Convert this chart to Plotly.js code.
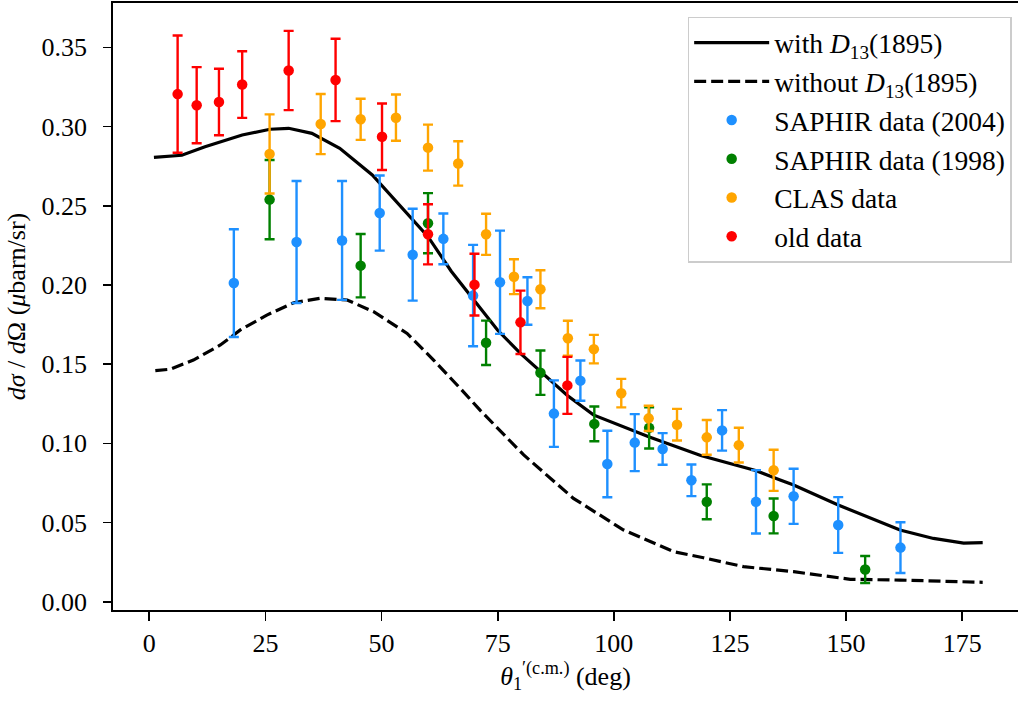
<!DOCTYPE html>
<html>
<head>
<meta charset="utf-8">
<script src="https://cdn.plot.ly/plotly-3.0.1.min.js"></script>
<style>html,body{margin:0;padding:0;background:#fff;overflow:hidden}#chart{width:1018px;height:702px}</style>
</head>
<body>
<div id="chart"></div>
<script>
// Model curves
const withTheta = [1, 7, 12, 20, 26, 30, 35, 41, 48, 55.5, 60, 65, 70, 75, 80, 84.2, 90, 95.6, 107.5, 118.7, 130.5, 135.8, 138.7, 148.3, 156, 161.6, 168.8, 175.3, 179.4];
const withVals = [0.2806, 0.2819, 0.2873, 0.2947, 0.2983, 0.2989, 0.2957, 0.2863, 0.2694, 0.2453, 0.2305, 0.2087, 0.1898, 0.1714, 0.1565, 0.1453, 0.1302, 0.118, 0.1042, 0.0924, 0.0829, 0.0769, 0.0737, 0.0611, 0.0517, 0.0453, 0.0400, 0.0370, 0.0373];
const withoutTheta = [1.3, 4.5, 9.5, 15.3, 19.6, 25.3, 31.1, 36.8, 42.6, 48.3, 55.5, 61.2, 66.6, 71.2, 80.6, 91.3, 102.1, 112.9, 119.3, 127.9, 138.7, 150.9, 161.6, 179.4];
const withoutVals = [0.1459, 0.1468, 0.1526, 0.1621, 0.1716, 0.181, 0.1888, 0.1916, 0.1905, 0.1831, 0.1694, 0.1526, 0.1358, 0.121, 0.0927, 0.0653, 0.0453, 0.0316, 0.0278, 0.0222, 0.0190, 0.0142, 0.0137, 0.0123];

// SAPHIR 2004
const saphir04Theta = [18.2, 31.7, 41.5, 49.6, 56.7, 63.3, 69.7, 75.5, 81.4, 87.1, 92.8, 98.6, 104.5, 110.5, 116.7, 123.3, 130.6, 138.7, 148.3, 161.7];
const saphir04Vals = [0.2012, 0.2271, 0.2281, 0.2454, 0.2191, 0.2291, 0.1933, 0.2017, 0.1899, 0.1188, 0.1396, 0.0870, 0.1005, 0.0965, 0.0767, 0.1082, 0.0631, 0.0666, 0.0485, 0.0342];
const saphir04Err = [0.034, 0.0385, 0.0375, 0.0237, 0.029, 0.016, 0.032, 0.0326, 0.015, 0.021, 0.0127, 0.021, 0.018, 0.010, 0.010, 0.0128, 0.020, 0.0174, 0.0176, 0.016];

// SAPHIR 1998
const saphir98Theta = [25.9, 45.5, 60.0, 72.5, 84.2, 95.8, 107.6, 120.0, 134.4, 154.1];
const saphir98Vals = [0.2539, 0.2122, 0.239, 0.1635, 0.1446, 0.1123, 0.1098, 0.0631, 0.0542, 0.0204];
const saphir98Err = [0.025, 0.020, 0.019, 0.014, 0.014, 0.011, 0.013, 0.011, 0.011, 0.0085];

// CLAS
const clasTheta = [25.9, 36.9, 45.5, 53.1, 60.0, 66.5, 72.5, 78.5, 84.2, 90.1, 95.7, 101.6, 107.5, 113.6, 120.0, 126.9, 134.4];
const clasVals = [0.2827, 0.3016, 0.3046, 0.3056, 0.2867, 0.2767, 0.232, 0.2052, 0.1973, 0.1664, 0.1595, 0.1317, 0.1158, 0.1118, 0.1038, 0.0989, 0.0830];
const clasErr = [0.025, 0.019, 0.013, 0.0146, 0.0145, 0.014, 0.013, 0.011, 0.012, 0.011, 0.009, 0.009, 0.008, 0.010, 0.011, 0.011, 0.013];

// old data
const oldTheta = [6.1, 10.2, 15.0, 20.0, 30.0, 40.1, 50.1, 60.0, 70.0, 79.9, 90.0];
const oldVals = [0.3205, 0.3135, 0.3155, 0.3265, 0.3354, 0.3294, 0.2936, 0.232, 0.2002, 0.1764, 0.1366];
const oldErr = [0.037, 0.024, 0.021, 0.021, 0.025, 0.026, 0.021, 0.019, 0.0195, 0.020, 0.018];

const xTicks = [0, 25, 50, 75, 100, 125, 150, 175];
const yTicks = [0.00, 0.05, 0.10, 0.15, 0.20, 0.25, 0.30, 0.35];

const FONT = '"Liberation Serif", "Times New Roman", serif';

function dataTrace(x, y, e, color, name, grp) {
  return {
    x: x, y: y, type: 'scatter', mode: 'markers', name: name, legendgroup: grp,
    marker: {color: color, size: 10.5},
    error_y: {type: 'data', array: e, visible: true, color: color, thickness: 2.4, width: 5}
  };
}

const traces = [
  {x: withTheta, y: withVals, type: 'scatter', mode: 'lines', name: 'with <i>D</i><sub>13</sub>(1895)', legendgroup: 'a',
   line: {color: 'black', width: 3.2}},
  {x: withoutTheta, y: withoutVals, type: 'scatter', mode: 'lines', name: 'without <i>D</i><sub>13</sub>(1895)', legendgroup: 'b',
   line: {color: 'black', width: 3.2, dash: '12px,5px'}},
  dataTrace(saphir04Theta, saphir04Vals, saphir04Err, '#1E90FF', 'SAPHIR data (2004)', 'c'),
  dataTrace(saphir98Theta, saphir98Vals, saphir98Err, '#008000', 'SAPHIR data (1998)', 'd'),
  dataTrace(clasTheta, clasVals, clasErr, '#FFA500', 'CLAS data', 'e'),
  dataTrace(oldTheta, oldVals, oldErr, '#FF0000', 'old data', 'f')
];

const layout = {
  width: 1018, height: 702,
  margin: {l: 113, r: 0, t: 3, b: 92},
  paper_bgcolor: 'white', plot_bgcolor: 'white',
  font: {family: FONT, size: 26, color: 'black'},
  showlegend: true,
  legend: {
    x: 0.993, y: 0.9775, xanchor: 'right', yanchor: 'top',
    bgcolor: 'white', bordercolor: '#cccccc', borderwidth: 1.5,
    font: {family: FONT, size: 27.5, color: 'black'},
    itemwidth: 75, tracegroupgap: 0, traceorder: 'grouped'
  },
  xaxis: {
    range: [-7.81, 187.0],
    tickvals: xTicks, ticktext: xTicks.map(String),
    ticks: 'outside', ticklen: 9, tickwidth: 1.6, tickcolor: 'black',
    showline: true, linecolor: 'black', linewidth: 1.8, mirror: true,
    showgrid: false, zeroline: false,
    tickfont: {family: FONT, size: 26},
    ticklabelstandoff: 0,
    title: {text: '<i>θ</i><sub>1</sub><sup>′(c.m.)</sup> (deg)', font: {family: FONT, size: 26}, standoff: 0}
  },
  yaxis: {
    range: [-0.00518, 0.378],
    tickvals: yTicks, ticktext: yTicks.map(v => v.toFixed(2)),
    ticks: 'outside', ticklen: 8, tickwidth: 1.6, tickcolor: 'black',
    showline: true, linecolor: 'black', linewidth: 1.8, mirror: false,
    showgrid: false, zeroline: false,
    tickfont: {family: FONT, size: 26},
    ticklabelstandoff: 11,
    title: {text: '<i>dσ</i> / <i>d</i>Ω (<i>μ</i>barn/sr)', font: {family: FONT, size: 26}, standoff: 8}
  }
};

Plotly.newPlot('chart', traces, layout, {displayModeBar: false, staticPlot: true});
</script>
</body>
</html>
